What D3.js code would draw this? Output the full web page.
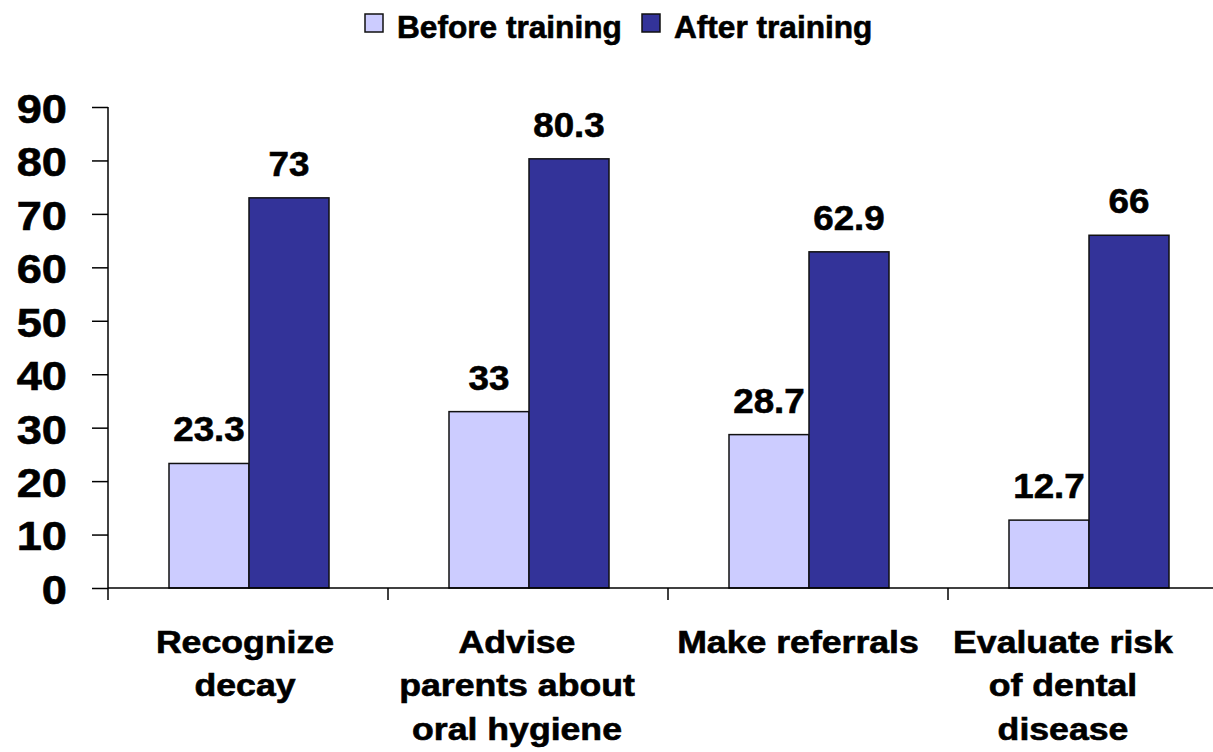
<!DOCTYPE html>
<html>
<head>
<script src="https://d3js.org/d3.v7.min.js"></script>
<style>
body { margin: 0; background: white; }
text { font-family: "Liberation Sans", Arial, sans-serif; font-weight: bold; fill: black; stroke: black; stroke-width: 0.6px; }
</style>
</head>
<body>
<svg id="chart" width="1213" height="752"></svg>
<script>
// data
const categories = [
  ["Recognize", "decay"],
  ["Advise", "parents about", "oral hygiene"],
  ["Make referrals"],
  ["Evaluate risk", "of dental", "disease"]
];
const seriesNames = ["Before training", "After training"];
const beforeValues = [23.3, 33, 28.7, 12.7];
const afterValues = [73, 80.3, 62.9, 66];
const yTicks = [0, 10, 20, 30, 40, 50, 60, 70, 80, 90];

// layout
const colors = ["#CCCCFF", "#333399"];
const labelShift = [-3, -11, -10, -25];
const plotLeft = 108, plotRight = 1228, plotTop = 107, plotBottom = 588;
const stretch = 1.13;

const svg = d3.select("#chart");
const catIds = categories.map((c, i) => i);

const x0 = d3.scaleBand().domain(catIds).range([plotLeft, plotRight]);
const x1 = d3.scaleBand().domain(seriesNames).range([61, 221]);
const y = d3.scaleLinear().domain([0, 90]).range([plotBottom, plotTop]);

const rows = catIds.map(i => ({ i: i, vals: [beforeValues[i], afterValues[i]] }));

// bars
const groups = svg.append("g").selectAll("g")
  .data(rows).enter().append("g")
  .attr("transform", d => "translate(" + x0(d.i) + ",0)");

groups.selectAll("rect")
  .data(d => d.vals.map((v, k) => ({ k: k, v: v })))
  .enter().append("rect")
  .attr("x", d => x1(seriesNames[d.k]))
  .attr("y", d => y(d.v))
  .attr("width", x1.bandwidth())
  .attr("height", d => y(0) - y(d.v))
  .attr("fill", d => colors[d.k])
  .attr("stroke", "#111")
  .attr("stroke-width", 1.5);

groups.selectAll("text.val")
  .data(d => d.vals.map((v, k) => ({ k: k, v: v })))
  .enter().append("text")
  .attr("class", "val")
  .attr("transform", d => "translate(" + (x1(seriesNames[d.k]) + x1.bandwidth() / 2) + "," + (y(d.v) - 22) + ") scale(1.05,1)")
  .attr("text-anchor", "middle")
  .style("font-size", "35px")
  .text(d => d.v);

// y axis
const yAxis = svg.append("g")
  .attr("transform", "translate(" + plotLeft + ",0)")
  .call(d3.axisLeft(y).tickValues(yTicks).tickSize(16).tickPadding(25));
yAxis.select(".domain").remove();
yAxis.selectAll(".tick line").attr("stroke", "black").attr("stroke-width", 1.5);
yAxis.selectAll(".tick text")
  .attr("x", 0)
  .attr("dy", "0.36em")
  .attr("transform", "translate(-41,1) scale(" + stretch + ",1)")
  .style("font-size", "40px")
  .attr("font-family", null);

svg.append("line")
  .attr("x1", plotLeft).attr("x2", plotLeft)
  .attr("y1", plotTop).attr("y2", plotBottom + 12)
  .attr("stroke", "black").attr("stroke-width", 1.5);

// x axis
svg.append("line")
  .attr("x1", plotLeft).attr("x2", plotRight)
  .attr("y1", plotBottom).attr("y2", plotBottom)
  .attr("stroke", "black").attr("stroke-width", 1.5);

svg.append("g").selectAll("line")
  .data(catIds.slice(1))
  .enter().append("line")
  .attr("x1", d => x0(d)).attr("x2", d => x0(d))
  .attr("y1", plotBottom).attr("y2", plotBottom + 12)
  .attr("stroke", "black").attr("stroke-width", 1.5);

const catLabels = svg.append("g").selectAll("text")
  .data(catIds).enter().append("text")
  .attr("transform", d => "translate(" + (x0(d) + x0.bandwidth() / 2 + labelShift[d]) + ",653) scale(" + 1.15 + ",1)")
  .attr("text-anchor", "middle")
  .style("font-size", "31px");

catLabels.selectAll("tspan")
  .data(d => categories[d].map((t, j) => ({ t: t, j: j })))
  .enter().append("tspan")
  .attr("x", 0)
  .attr("dy", d => d.j === 0 ? 0 : 43.5)
  .text(d => d.t);

// legend
const legendX = [365, 642];
const legend = svg.append("g").selectAll("g")
  .data(seriesNames).enter().append("g")
  .attr("transform", (d, i) => "translate(" + legendX[i] + ",14)");
legend.append("rect")
  .attr("width", 18).attr("height", 18)
  .attr("fill", (d, i) => colors[i])
  .attr("stroke", "#111").attr("stroke-width", 1.5);
legend.append("text")
  .attr("transform", "translate(32,24) scale(1.02,1)")
  .style("font-size", "31px")
  .text(d => d);
</script>
</body>
</html>
